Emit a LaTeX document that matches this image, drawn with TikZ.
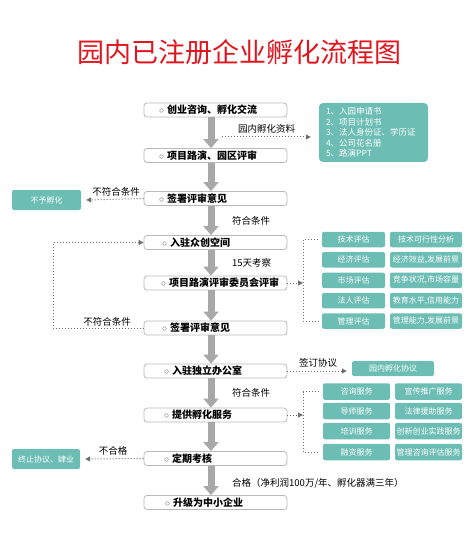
\documentclass[tikz,border=0pt]{standalone}
\usepackage{fontspec}
\newfontfamily\cjk{Noto Sans CJK SC}
\usetikzlibrary{arrows.meta}

\definecolor{teal1}{HTML}{6CBDB3}
\definecolor{flowgray}{HTML}{A8A8A8}
\definecolor{dotgray}{HTML}{6E6E6E}
\definecolor{titlered}{HTML}{E2141E}

\newcommand{\dotmark}{{\color{gray!80!black}$\circ$}\hspace{3pt}}

\tikzset{
  stepbox/.style={draw=gray!55, line width=0.8pt, rounded corners=3pt, fill=white,
    minimum width=143pt, minimum height=14pt, inner xsep=0pt, inner ysep=1pt,
    text width=143pt, align=left, font=\cjk\bfseries\fontsize{10}{12}\selectfont},
  tealbox/.style={fill=teal1, rounded corners=2pt, text=white, inner sep=1pt,
    font=\cjk\fontsize{8}{10}\selectfont},
  note/.style={font=\cjk\fontsize{9.5}{11}\selectfont, inner sep=0pt},
  flow/.style={draw=flowgray, line width=7pt, -{Triangle[width=15pt,length=9pt]}},
  conn/.style={draw=dotgray, dotted, line width=1pt, -{Triangle[width=5pt,length=5pt]}},
  brk/.style={draw=dotgray, dotted, line width=1pt}
}

\begin{document}
\begin{tikzpicture}[x=1pt,y=-1pt]
\def\cx{215.5}
\useasboundingbox (0,0) rectangle (472,548);

% title
\node[font=\cjk\fontsize{27}{30}\selectfont, text=titlered] (title) at (239.5,52) {园内已注册企业孵化流程图};

% main column
\node[stepbox] (s1) at (\cx,110)   {\hspace*{15pt}\dotmark 创业咨询、孵化交流};
\node[stepbox] (s2) at (\cx,155.5) {\hspace*{15pt}\dotmark 项目路演、园区评审};
\node[stepbox] (s3) at (\cx,198.5) {\hspace*{15pt}\dotmark 签署评审意见};
\node[stepbox] (s4) at (\cx,242.5) {\hspace*{18pt}\dotmark 入驻众创空间};
\node[stepbox] (s5) at (\cx,283)   {\hspace*{17pt}\dotmark 项目路演评审委员会评审};
\node[stepbox] (s6) at (\cx,328)   {\hspace*{18pt}\dotmark 签署评审意见};
\node[stepbox] (s7) at (\cx,371)   {\hspace*{20pt}\dotmark 入驻独立办公室};
\node[stepbox] (s8) at (\cx,415)   {\hspace*{20pt}\dotmark 提供孵化服务};
\node[stepbox] (s9) at (\cx,458.5) {\hspace*{20pt}\dotmark 定期考核};
\node[stepbox] (s10) at (\cx,502.5) {\hspace*{21pt}\dotmark 升级为中小企业};

\foreach \a/\b in {s1/s2,s2/s3,s3/s4,s4/s5,s5/s6,s6/s7,s7/s8,s8/s9,s9/s10}
  \draw[flow] ([xshift=-4.5pt]\a.south) -- ([xshift=-4.5pt]\b.north);

% labels beside the arrows
\node[note, anchor=west] (l1) at (238,129) {园内孵化资料};
\node[note, anchor=west] (l2) at (232,221) {符合条件};
\node[note, anchor=west] (l3) at (232,263) {15天考察};
\node[note, anchor=west] (l4) at (232,393) {符合条件};
\node[note, anchor=west] (l5) at (232,483) {合格（净利润100万/年、孵化器满三年）};

% material list
\node[tealbox, minimum width=109pt, minimum height=59pt, text width=95pt, align=left,
  font=\cjk\fontsize{8.5}{10.5}\selectfont, rounded corners=4pt] (info) at (373.5,132.5)
  {1、入园申请书\\2、项目计划书\\3、法人身份证、学历证\\4、公司花名册\\5、路演PPT};
\coordinate (d1) at (222,137);
\draw[conn, shorten >=8pt] (d1) -- (d1 -| info.west);

% not passed (row 3)
\node[tealbox, minimum width=69pt, minimum height=20pt] (nofit) at (46.5,200) {不予孵化};
\draw[conn] (s3.west) -- ([xshift=5pt]nofit.east);
\node[note, anchor=south] (l6) at (116,196) {不符合条件};

% loop back (row 6)
\coordinate (loopx) at (53,0);
\draw[conn] (s6.west) -- (s6.west -| loopx) |- (s4.west);
\node[note, anchor=south] (l7) at (107,326) {不符合条件};

% evaluation grid
\foreach \i/\y/\ta/\tb in {1/239.5/技术评估/技术可行性分析,
                          2/259.8/经济评估/{经济效益,发展前景},
                          3/280.3/市场评估/{竞争状况,市场容量},
                          4/300.6/法人评估/{教育水平,信用能力},
                          5/321/管理评估/{管理能力,发展前景}}{
  \node[tealbox, minimum width=63pt, minimum height=15.5pt] (e\i) at (353.5,\y) {\ta};
  \node[tealbox, minimum width=72pt, minimum height=15.5pt] (f\i) at (426,\y) {\tb};
}
\coordinate (bx) at (303,0);
\draw[conn] (s5.east) -- (s5.east -| bx);
\draw[brk] ([xshift=-4pt]e1.west) -| (bx |- e1.west) |- ([xshift=-4pt]e5.west);

% agreement (row 7)
\node[tealbox, minimum width=82pt, minimum height=15pt] (agree) at (393,368.5) {园内孵化协议};
\draw[conn, shorten >=5pt] (s7.east) -- (s7.east -| agree.west);
\node[note, anchor=south] (l8) at (318,368) {签订协议};

% service grid
\foreach \i/\y/\ta/\tb in {1/391.5/咨询服务/宣传推广服务,
                          2/411/导师服务/法律援助服务,
                          3/431/培训服务/创新创业实践服务,
                          4/452/融资服务/管理咨询评估服务}{
  \node[tealbox, minimum width=67pt, minimum height=16.5pt] (g\i) at (356.5,\y) {\ta};
  \node[tealbox, minimum width=67pt, minimum height=16.5pt] (h\i) at (428.5,\y) {\tb};
}
\draw[conn] (s8.east) -- (s8.east -| bx);
\draw[brk] ([xshift=-4pt]g1.west) -| (bx |- g1.west) |- ([xshift=-4pt]g4.west);

% not qualified (row 9)
\node[tealbox, minimum width=68pt, minimum height=20pt] (stop) at (46,459) {终止协议、肄业};
\draw[conn] (s9.west) -- ([xshift=5pt]stop.east);
\node[note, anchor=south] (l9) at (113,455) {不合格};

\end{tikzpicture}
\end{document}
